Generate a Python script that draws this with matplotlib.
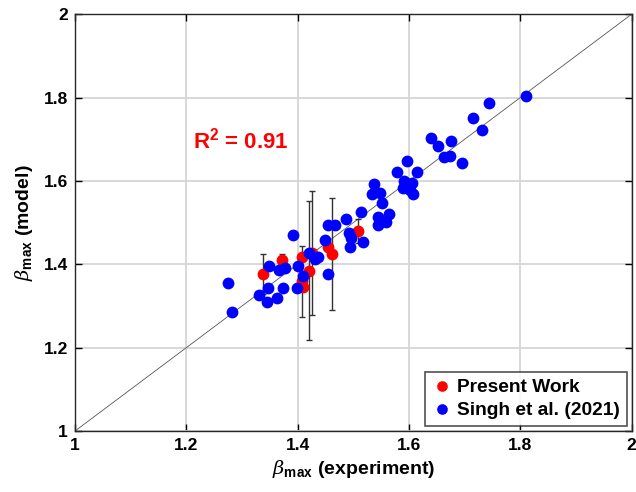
import matplotlib
matplotlib.use("Agg")
import matplotlib.pyplot as plt
from matplotlib.ticker import FuncFormatter

# --- Data ---
# Singh et al. (2021): experiment vs model
singh_exp = [1.275, 1.282, 1.348, 1.366, 1.377, 1.331, 1.347, 1.345, 1.363, 1.374,
             1.392, 1.401, 1.410, 1.399, 1.420, 1.431, 1.437, 1.454, 1.449, 1.454,
             1.467, 1.487, 1.492, 1.496, 1.494, 1.517, 1.514, 1.537, 1.534, 1.548,
             1.552, 1.544, 1.544, 1.564, 1.559, 1.579, 1.596, 1.614, 1.591, 1.605,
             1.589, 1.602, 1.607, 1.640, 1.652, 1.676, 1.663, 1.674, 1.695, 1.715,
             1.744, 1.731, 1.810]
singh_mod = [1.355, 1.286, 1.396, 1.386, 1.391, 1.326, 1.343, 1.310, 1.319, 1.343,
             1.470, 1.396, 1.372, 1.343, 1.427, 1.413, 1.418, 1.377, 1.458, 1.494,
             1.494, 1.509, 1.475, 1.463, 1.442, 1.454, 1.525, 1.593, 1.569, 1.571,
             1.547, 1.513, 1.494, 1.521, 1.501, 1.621, 1.648, 1.621, 1.600, 1.595,
             1.583, 1.578, 1.569, 1.703, 1.684, 1.696, 1.657, 1.660, 1.643, 1.751,
             1.787, 1.722, 1.804]

# Present work: experiment vs model, with model uncertainty (0 = no bar)
present_exp = [1.338, 1.372, 1.408, 1.408, 1.410, 1.420, 1.426, 1.454, 1.462, 1.508]
present_mod = [1.377, 1.410, 1.418, 1.359, 1.346, 1.385, 1.427, 1.442, 1.425, 1.480]
present_err = [0.048, 0.014, 0.0, 0.085, 0.0, 0.167, 0.149, 0.0, 0.134, 0.029]

r2_text = "R$^\\mathbf{2}$ = 0.91"

plt.rcParams['font.family'] = ['Liberation Sans', 'DejaVu Sans']
plt.rcParams['mathtext.fontset'] = 'custom'
plt.rcParams['mathtext.rm'] = 'Liberation Sans'
plt.rcParams['mathtext.bf'] = 'Liberation Sans:bold'
plt.rcParams['mathtext.it'] = 'DejaVu Serif:italic'

fig = plt.figure(figsize=(6.36, 4.92), dpi=100)
ax = fig.add_axes([0.118, 0.124, 0.875, 0.847])

# 1:1 reference line
ax.plot([1, 2], [1, 2], color='#555555', lw=0.6, zorder=2)

# error bars (only where a bar exists)
eb_x = [x for x, e in zip(present_exp, present_err) if e > 0]
eb_y = [y for y, e in zip(present_mod, present_err) if e > 0]
eb_e = [e for e in present_err if e > 0]
ax.errorbar(eb_x, eb_y, yerr=eb_e, fmt='none', ecolor='#333333', elinewidth=1.0,
            capsize=2.5, capthick=1.0, zorder=3)

ax.plot(present_exp, present_mod, 'o', color='red', ms=8.5, mec='none',
        label='Present Work', zorder=4)
ax.plot(singh_exp, singh_mod, 'o', color='blue', ms=8.5, mec='none',
        label='Singh et al. (2021)', zorder=5)

ax.text(1.212, 1.696, r2_text, color='red', fontsize=16, fontweight='bold',
        va='center', ha='left')

ax.set_xlim(1, 2)
ax.set_ylim(1, 2)
ticks = [1, 1.2, 1.4, 1.6, 1.8, 2]
ax.set_xticks(ticks)
ax.set_yticks(ticks)
fmt = FuncFormatter(lambda v, p: f"{v:g}")
ax.xaxis.set_major_formatter(fmt)
ax.yaxis.set_major_formatter(fmt)
ax.tick_params(direction='in', length=5, width=1, top=True, right=True,
               labelsize=12.5, pad=5)
for lab in ax.get_xticklabels() + ax.get_yticklabels():
    lab.set_fontweight('bold')
for s in ax.spines.values():
    s.set_linewidth(1.0)
    s.set_color('#262626')

ax.grid(True, color='#d6d6d6', lw=1.3)
ax.set_axisbelow(True)

ax.set_xlabel(r'$\beta_{\mathbf{max}}$ (experiment)', fontsize=14, fontweight='bold',
              labelpad=4)
ax.set_ylabel(r'$\beta_{\mathbf{max}}$ (model)', fontsize=14, fontweight='bold',
              labelpad=6)

leg = ax.legend(loc='lower right', prop={'weight': 'bold', 'size': 13.8},
                frameon=True, fancybox=False, edgecolor='#262626',
                handletextpad=0.25, borderpad=0.35, labelspacing=0.3,
                handlelength=1.1, borderaxespad=0.25, markerscale=0.9)
leg.get_frame().set_linewidth(1.2)

fig.savefig('out.png', dpi=100)
